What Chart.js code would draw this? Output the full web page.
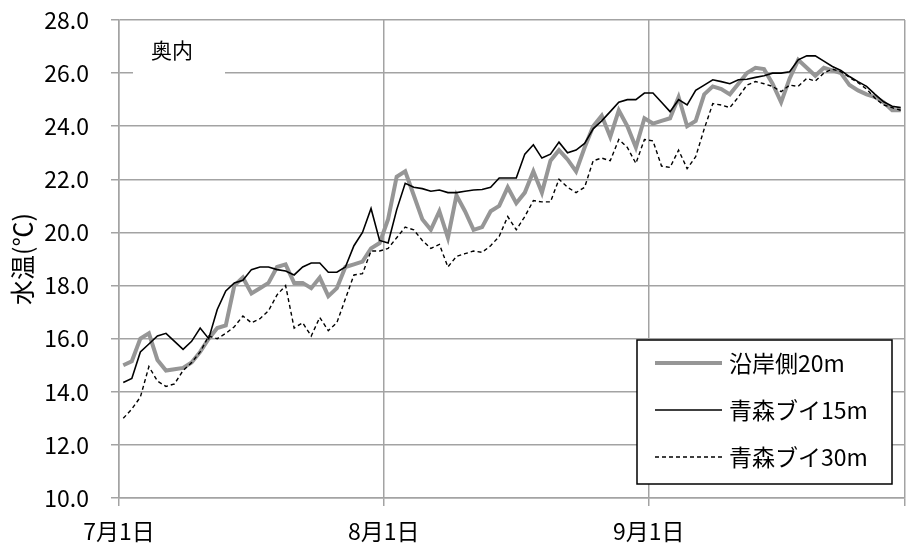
<!DOCTYPE html>
<html>
<head>
<meta charset="utf-8">
<script src="https://cdn.jsdelivr.net/npm/chart.js@4.4.1/dist/chart.umd.min.js"></script>
<style>
  html, body { margin: 0; padding: 0; background: #fff; }
  canvas { display: block; }
</style>
</head>
<body>
<canvas id="c" width="913" height="556"></canvas>
<script>
// Daily water temperature, 7/1 .. 9/30 (one value per day)
const coastal20 = [
  15.0, 15.15, 16.0, 16.2, 15.2, 14.8, 14.85, 14.9, 15.1, 15.5,
  16.0, 16.4, 16.5, 18.0, 18.3, 17.7, 17.9, 18.1, 18.7, 18.8,
  18.1, 18.1, 17.9, 18.3, 17.6, 17.9, 18.7, 18.8, 18.9, 19.4,
  19.6, 20.5, 22.1, 22.3, 21.4, 20.5, 20.1, 20.8, 19.8, 21.4,
  20.8, 20.1, 20.2, 20.8, 21.0, 21.7, 21.1, 21.5, 22.3, 21.5,
  22.7, 23.1, 22.75, 22.3, 23.2, 24.0, 24.4, 23.6, 24.6, 24.0,
  23.2, 24.3, 24.1, 24.2, 24.3, 25.1, 24.0, 24.2, 25.2, 25.5,
  25.4, 25.2, 25.6, 26.0, 26.2, 26.15, 25.6, 24.9, 25.8, 26.5,
  26.2, 25.9, 26.2, 26.1, 26.0, 25.55, 25.35, 25.2, 25.1, 24.9,
  24.6, 24.6
];
const buoy15 = [
  14.35, 14.5, 15.5, 15.8, 16.1, 16.2, 15.9, 15.6, 15.9, 16.4,
  16.0, 17.1, 17.8, 18.1, 18.2, 18.6, 18.7, 18.7, 18.6, 18.55,
  18.4, 18.7, 18.85, 18.85, 18.5, 18.5, 18.7, 19.5, 20.0, 20.9,
  19.7, 19.6, 20.85, 21.85, 21.7, 21.65, 21.55, 21.6, 21.5, 21.5,
  21.55, 21.6, 21.62, 21.7, 22.05, 22.05, 22.05, 22.95, 23.3, 22.8,
  22.95, 23.4, 23.0, 23.1, 23.35, 23.9, 24.2, 24.55, 24.9, 25.0,
  25.0, 25.25, 25.25, 24.9, 24.55, 25.0, 24.8, 25.35, 25.55, 25.75,
  25.68, 25.6, 25.75, 25.77, 25.84, 25.9, 26.0, 26.0, 26.05, 26.5,
  26.65, 26.65, 26.45, 26.25, 26.1, 25.87, 25.68, 25.5, 25.2, 24.92,
  24.75, 24.7
];
const buoy30 = [
  13.0, 13.35, 13.8, 14.95, 14.4, 14.2, 14.3, 14.8, 15.1, 15.5,
  16.1, 16.0, 16.2, 16.45, 16.85, 16.6, 16.75, 17.05, 17.65, 18.0,
  16.4, 16.6, 16.1, 16.8, 16.3, 16.6, 17.5, 18.4, 18.45, 19.3,
  19.3, 19.4, 19.8, 20.2, 20.1, 19.7, 19.4, 19.55, 18.7, 19.1,
  19.2, 19.3, 19.25, 19.5, 19.85, 20.6, 20.1, 20.6, 21.2, 21.15,
  21.15, 22.0, 21.7, 21.5, 21.7, 22.7, 22.8, 22.7, 23.5, 23.2,
  22.6, 23.5, 23.45, 22.5, 22.45, 23.1, 22.4, 22.85, 23.9, 24.85,
  24.8, 24.7, 25.1, 25.55, 25.68, 25.6, 25.5, 25.3, 25.55, 25.5,
  25.8, 25.7, 26.0, 26.15, 26.05, 25.84, 25.64, 25.4, 25.05, 24.8,
  24.7, 24.6
];

const seriesNames = ['沿岸側20m', '青森ブイ15m', '青森ブイ30m'];
// Month boundaries (days since 7/1) and their labels
const monthTickDays = [0, 31, 62, 92];
const monthTickLabels = ['7月1日', '8月1日', '9月1日', ''];
const yAxisTitle = '水温(℃)';
const stationLabel = '奥内';

const FONT = '"Noto Sans CJK JP", "Noto Sans", sans-serif';
const GRID = '#a3a3a3';

// each daily value sits in the middle of its day
const toPoints = arr => arr.map((v, i) => ({ x: i + 0.5, y: v }));

const overlayPlugin = {
  id: 'overlay',
  afterDraw(chart) {
    const ctx = chart.ctx;
    ctx.save();

    // station name box (top-left of plot)
    ctx.fillStyle = '#fff';
    ctx.fillRect(133, 28, 92, 50);
    ctx.fillStyle = '#000';
    ctx.font = '21px ' + FONT;
    ctx.textAlign = 'left';
    ctx.textBaseline = 'middle';
    ctx.fillText(stationLabel, 151, 50);

    // legend box (bottom-right of plot)
    const bx = 637, by = 340, bw = 255, bh = 144;
    ctx.fillStyle = '#fff';
    ctx.fillRect(bx, by, bw, bh);
    ctx.strokeStyle = '#000';
    ctx.lineWidth = 1.5;
    ctx.setLineDash([]);
    ctx.strokeRect(bx, by, bw, bh);

    const rows = [363, 410, 457];
    chart.data.datasets.forEach((ds, i) => {
      const y = rows[i];
      ctx.beginPath();
      ctx.strokeStyle = ds.borderColor;
      ctx.lineWidth = ds.borderWidth;
      ctx.setLineDash(ds.borderDash || []);
      ctx.moveTo(655, y);
      ctx.lineTo(722, y);
      ctx.stroke();
      ctx.setLineDash([]);
      ctx.fillStyle = '#000';
      ctx.font = '23px ' + FONT;
      ctx.textAlign = 'left';
      ctx.textBaseline = 'middle';
      ctx.fillText(ds.label, 729, y);
    });
    ctx.restore();
  }
};

new Chart(document.getElementById('c').getContext('2d'), {
  type: 'line',
  data: {
    datasets: [
      {
        label: seriesNames[0],
        data: toPoints(coastal20),
        borderColor: '#969696',
        borderWidth: 4,
        pointRadius: 0,
        tension: 0,
        order: 3
      },
      {
        label: seriesNames[1],
        data: toPoints(buoy15),
        borderColor: '#000',
        borderWidth: 1.6,
        pointRadius: 0,
        tension: 0,
        order: 1
      },
      {
        label: seriesNames[2],
        data: toPoints(buoy30),
        borderColor: '#000',
        borderWidth: 1.4,
        borderDash: [4, 3],
        pointRadius: 0,
        tension: 0,
        order: 2
      }
    ]
  },
  options: {
    responsive: false,
    animation: false,
    layout: { padding: { top: 20, right: 8, left: 0, bottom: 0 } },
    scales: {
      x: {
        type: 'linear',
        min: 0,
        max: 92,
        afterBuildTicks: s => { s.ticks = monthTickDays.map(v => ({ value: v })); },
        afterFit: s => { s.height = 58; s.paddingLeft = 0; s.paddingRight = 0; },
        ticks: {
          autoSkip: false,
          maxRotation: 0,
          minRotation: 0,
          padding: 11,
          color: '#000',
          font: { family: FONT, size: 23 },
          callback: (v, i) => monthTickLabels[i]
        },
        grid: { color: GRID, lineWidth: 1.5, tickLength: 8 },
        border: { color: GRID, width: 1.5 }
      },
      y: {
        min: 10,
        max: 28,
        afterFit: s => { s.width = 119; s.paddingTop = 0; s.paddingBottom = 0; },
        ticks: {
          stepSize: 2,
          padding: 22,
          color: '#000',
          font: { family: FONT, size: 23 },
          callback: v => v.toFixed(1)
        },
        grid: { color: GRID, lineWidth: 1.5, tickLength: 8 },
        border: { color: GRID, width: 1.5 },
        title: {
          display: true,
          text: yAxisTitle,
          color: '#000',
          font: { family: FONT, size: 25 },
          padding: { top: 7, bottom: 0 }
        }
      }
    },
    plugins: {
      legend: { display: false },
      tooltip: { enabled: false }
    }
  },
  plugins: [overlayPlugin]
});
</script>
</body>
</html>
